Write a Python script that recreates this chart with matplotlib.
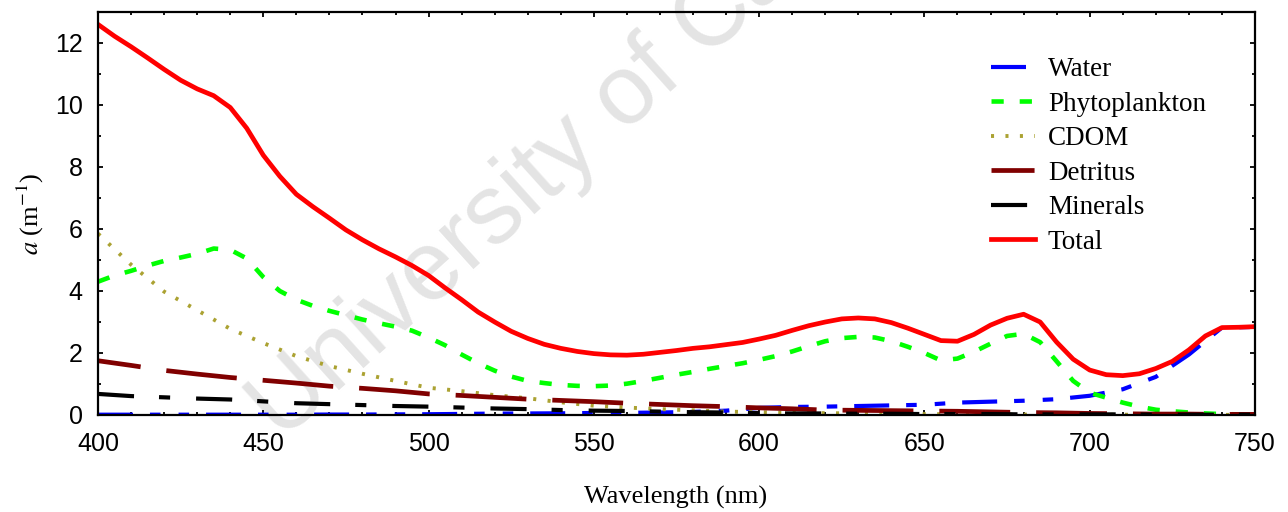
import matplotlib
matplotlib.use("Agg")
import matplotlib.pyplot as plt
from matplotlib.ticker import MultipleLocator

# ---------------- data ----------------
wl5 = list(range(400, 751, 5))
wl10 = list(range(400, 751, 10))

total = [12.6, 12.22, 11.88, 11.52, 11.15, 10.8, 10.52, 10.3, 9.92, 9.25,
         8.38, 7.7, 7.12, 6.72, 6.35, 5.97, 5.65, 5.36, 5.1, 4.82,
         4.5, 4.1, 3.72, 3.32, 3.0, 2.7, 2.47, 2.28, 2.15, 2.05,
         1.98, 1.94, 1.93, 1.96, 2.02, 2.08, 2.15, 2.2, 2.27, 2.34,
         2.45, 2.57, 2.73, 2.88, 3.0, 3.1, 3.13, 3.1, 2.98, 2.8,
         2.6, 2.4, 2.38, 2.6, 2.9, 3.12, 3.25, 3.0, 2.35, 1.8,
         1.45, 1.3, 1.27, 1.33, 1.5, 1.73, 2.1, 2.55, 2.82, 2.83, 2.85]

phyto = [4.3, 4.5, 4.65, 4.82, 4.97, 5.08, 5.2, 5.37, 5.33, 5.05,
         4.45, 4.0, 3.72, 3.52, 3.36, 3.22, 3.08, 2.96, 2.85, 2.72,
         2.5, 2.25, 1.95, 1.67, 1.43, 1.24, 1.1, 1.03, 0.97, 0.94,
         0.93, 0.95, 1.01, 1.1, 1.2, 1.3, 1.39, 1.49, 1.58, 1.67,
         1.78, 1.9, 2.05, 2.22, 2.38, 2.48, 2.52, 2.5, 2.38, 2.2,
         2.0, 1.76, 1.82, 2.04, 2.3, 2.55, 2.62, 2.35, 1.73, 1.1,
         0.72, 0.56, 0.4, 0.27, 0.17, 0.12, 0.08, 0.05, 0.03, 0.02, 0.01]

water = [0.01, 0.01, 0.01, 0.01, 0.01, 0.01, 0.01, 0.015, 0.015, 0.02,
         0.025, 0.035, 0.045, 0.05, 0.055, 0.065, 0.07, 0.08, 0.1, 0.14,
         0.23, 0.26, 0.27, 0.29, 0.31, 0.33, 0.4, 0.43, 0.46, 0.51,
         0.62, 0.83, 1.23, 1.95, 2.82, 2.84]

cdom = [5.85, 4.85, 3.98, 3.38, 2.78, 2.32, 1.9, 1.58, 1.33, 1.1,
        0.88, 0.77, 0.64, 0.54, 0.41, 0.3, 0.24, 0.19, 0.15, 0.11,
        0.09, 0.07, 0.06, 0.05, 0.04, 0.03, 0.025, 0.02, 0.015, 0.01,
        0.01, 0.01, 0.005, 0.005, 0.005, 0.005]

detritus = [1.75, 1.6, 1.44, 1.32, 1.21, 1.12, 1.03, 0.93, 0.86, 0.78,
            0.68, 0.63, 0.57, 0.51, 0.47, 0.43, 0.38, 0.34, 0.3, 0.27,
            0.23, 0.2, 0.16, 0.15, 0.14, 0.13, 0.12, 0.1, 0.08, 0.07,
            0.05, 0.04, 0.03, 0.03, 0.02, 0.02]

minerals = [0.68, 0.61, 0.57, 0.53, 0.5, 0.44, 0.38, 0.35, 0.32, 0.29,
            0.27, 0.24, 0.21, 0.19, 0.16, 0.14, 0.13, 0.11, 0.09, 0.08,
            0.06, 0.05, 0.05, 0.04, 0.04, 0.03, 0.03, 0.03, 0.02, 0.02,
            0.02, 0.02, 0.01, 0.01, 0.01, 0.01]

labels = ["Water", "Phytoplankton", "CDOM", "Detritus", "Minerals", "Total"]
xticks = [400, 450, 500, 550, 600, 650, 700, 750]
yticks = [0, 2, 4, 6, 8, 10, 12]

# ---------------- figure ----------------
plt.rcParams['lines.scale_dashes'] = False
plt.rcParams['mathtext.fontset'] = 'stix'

W, H = 1288, 512
fig = plt.figure(figsize=(W / 100, H / 100), dpi=100)
L, R, T, B = 98, 1255, 12, 415
ax = fig.add_axes([L / W, 1 - B / H, (R - L) / W, (B - T) / H])

# watermark
ax.text(282 / W, 1 - 442 / H, "University of Ca", transform=fig.transFigure,
        rotation=42, rotation_mode='anchor', ha='left', va='baseline',
        fontsize=71, color='#e4e4e4', family='Liberation Sans', zorder=0.5,
        clip_on=False)

ax.plot(wl10, water, color='#0000FF', lw=3.0, label=labels[0],
        linestyle=(0, (25.2, 12.2, 7.6, 13.0, 7.6, 12.2)), solid_joinstyle='round')
ax.plot(wl5, phyto, color='#00FF00', lw=3.3, label=labels[1],
        linestyle=(0, (8.8, 11.5)))
ax.plot(wl10, cdom, color='#ABA232', lw=2.8, label=labels[2],
        linestyle=(0, (2.2, 8.2)))
ax.plot(wl10, detritus, color='#800000', lw=3.4, label=labels[3],
        linestyle=(20, (51, 18.7)))
ax.plot(wl10, minerals, color='#000000', lw=3.0, label=labels[4],
        linestyle=(0, (26, 18, 8, 18.7)))
ax.plot(wl5, total, color='#FF0000', lw=3.4, label=labels[5], linestyle='-',
        solid_joinstyle='round')

ax.set_xlim(400, 750)
ax.set_ylim(0, 13)
ax.set_xticks(xticks)
ax.set_yticks(yticks)
ax.xaxis.set_minor_locator(MultipleLocator(10))
ax.yaxis.set_minor_locator(MultipleLocator(1))
ax.tick_params(which='both', direction='in', top=True, right=True, width=1.3, color='black')
ax.tick_params(which='major', length=3.3)
ax.tick_params(which='minor', length=1.9)
ax.tick_params(axis='x', which='major', pad=12, labelsize=18)
ax.tick_params(axis='y', which='major', pad=11, labelsize=18)
for lab in ax.get_xticklabels() + ax.get_yticklabels():
    lab.set_family('Liberation Sans')
for sp in ax.spines.values():
    sp.set_linewidth(1.6)

fig.text(676 / W, 1 - 497 / H, "Wavelength (nm)", ha='center', va='center',
         fontsize=19, family='Liberation Serif')
fig.text(30 / W, 1 - 214 / H, r"$a$ (m$^{-1}$)", ha='center', va='center', rotation=90,
         fontsize=19, family='Liberation Serif')

leg = ax.legend(loc='upper left', bbox_to_anchor=(991 / W, 1 - 57.5 / H),
                bbox_transform=fig.transFigure, frameon=False, borderpad=0,
                borderaxespad=0, handlelength=1.62, handletextpad=0.48,
                labelspacing=0.35, prop={'family': 'Liberation Serif', 'size': 19.5})

fig.savefig("out.png", dpi=100)
